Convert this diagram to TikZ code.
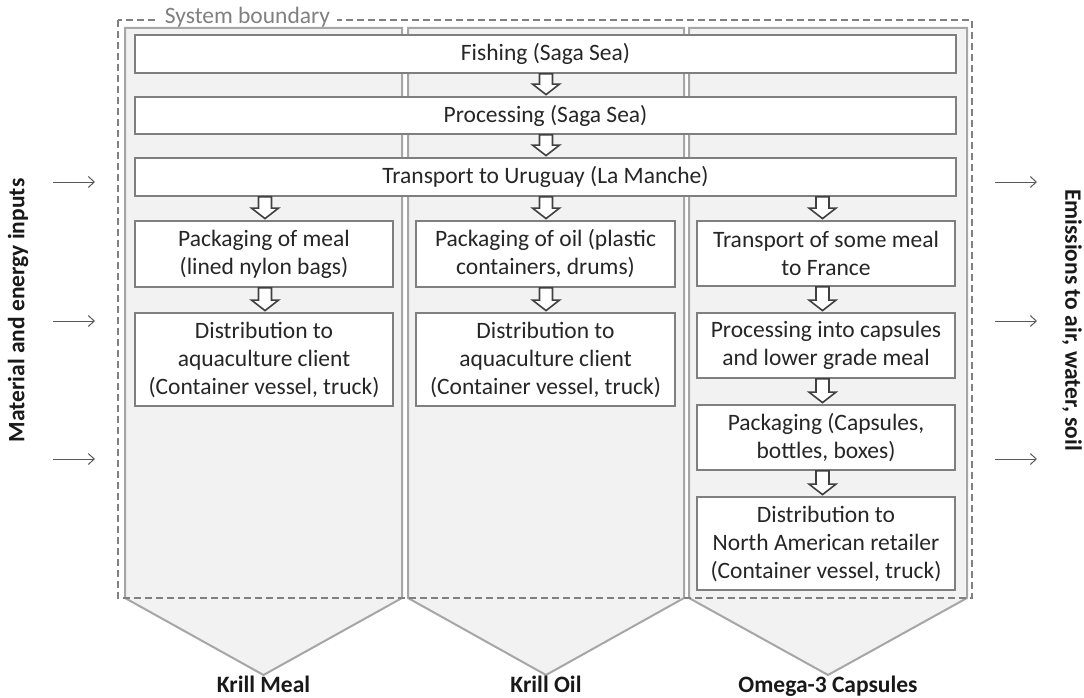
\documentclass[tikz,border=0pt]{standalone}
\usepackage{fontspec}
\setmainfont{Carlito}
\usetikzlibrary{arrows.meta,calc}
\definecolor{colfill}{HTML}{F2F2F2}
\definecolor{coledge}{HTML}{A6A6A6}
\definecolor{boxgray}{HTML}{7F7F7F}
\definecolor{dashgray}{HTML}{808080}
\definecolor{textdark}{HTML}{262626}
\definecolor{arrowdark}{HTML}{404040}
\definecolor{sidegray}{HTML}{595959}
\tikzset{
  procbox/.style={draw=boxgray, fill=white, line width=1.8pt, align=center,
    inner sep=0pt, text=textdark, font=\fontsize{23.5}{28}\selectfont},
  column/.style={fill=colfill, draw=coledge, line width=2pt, line join=miter},
  boundary/.style={draw=dashgray, line width=2.4pt, dash pattern=on 7pt off 4pt},
  hollow/.style={draw=arrowdark, fill=white, line width=1.6pt, line join=miter},
  sidearrow/.style={draw=sidegray, line width=1pt, -{Straight Barb[length=6pt,width=11pt]}},
  outlabel/.style={font=\fontsize{23.5}{28}\selectfont\bfseries, text=black!90},
}
\newcommand{\harr}[3]{%
  \draw[hollow] let \p1=(#1.south), \p2=(#2.north) in
    ({#3pt-6.5pt},{\y1}) -- ({#3pt+6.5pt},{\y1}) -- ({#3pt+6.5pt},{\y2+12pt})
    -- ({#3pt+13.5pt},{\y2+12pt}) -- ({#3pt},{\y2+1.5pt}) -- ({#3pt-13.5pt},{\y2+12pt})
    -- ({#3pt-6.5pt},{\y2+12pt}) -- cycle;}
\begin{document}
\begin{tikzpicture}[x=1pt,y=-1pt]
\useasboundingbox (0,0) rectangle (1084,698);
% columns
\path[column] (125,28) -- (402,28) -- (402,598) -- (263.5,675) -- (125,598) -- cycle;
\path[column] (408,28) -- (684,28) -- (684,598) -- (546,675) -- (408,598) -- cycle;
\path[column] (689,28) -- (967,28) -- (967,598) -- (828,675) -- (689,598) -- cycle;
% system boundary
\draw[boundary] (118,20) rectangle (972,598);
\node[anchor=base, fill=white, inner xsep=7pt, inner ysep=0pt, text depth=2pt,
  text=dashgray, font=\fontsize{23.5}{28}\selectfont] (sb) at (247.5,24) {System boundary};
% common boxes
\node[procbox, minimum width=821pt, minimum height=38pt] (fish) at (545.5,54) {Fishing (Saga Sea)};
\node[procbox, minimum width=821pt, minimum height=37pt] (proc) at (545.5,115.5) {Processing (Saga Sea)};
\node[procbox, minimum width=821pt, minimum height=38pt] (trans) at (545.5,177) {Transport to Uruguay (La Manche)};
% column 1
\node[procbox, minimum width=258pt, minimum height=66pt] (m1) at (264,254) {Packaging of meal\\(lined nylon bags)};
\node[procbox, minimum width=258pt, minimum height=93pt] (m2) at (264,359.5) {Distribution to\\aquaculture client\\(Container vessel, truck)};
% column 2
\node[procbox, minimum width=259pt, minimum height=66pt] (o1) at (545.5,254) {Packaging of oil (plastic\\containers, drums)};
\node[procbox, minimum width=259pt, minimum height=93pt] (o2) at (545.5,359.5) {Distribution to\\aquaculture client\\(Container vessel, truck)};
% column 3
\node[procbox, minimum width=258pt, minimum height=65pt] (c1) at (826,253.5) {Transport of some meal\\to France};
\node[procbox, minimum width=258pt, minimum height=65pt] (c2) at (826,345.5) {Processing into capsules\\and lower grade meal};
\node[procbox, minimum width=258pt, minimum height=65pt] (c3) at (826,437.5) {Packaging (Capsules,\\bottles, boxes)};
\node[procbox, minimum width=258pt, minimum height=93pt] (c4) at (826,543.5) {Distribution to\\North American retailer\\(Container vessel, truck)};
% hollow arrows
\harr{fish}{proc}{546}
\harr{proc}{trans}{546}
\harr{trans}{m1}{265}
\harr{trans}{o1}{546}
\harr{trans}{c1}{822.5}
\harr{m1}{m2}{265}
\harr{o1}{o2}{546}
\harr{c1}{c2}{822.5}
\harr{c2}{c3}{822.5}
\harr{c3}{c4}{822.5}
% side arrows
\coordinate (i1s) at (53,182); \coordinate (i1e) at (95,182);
\coordinate (i2s) at (53,321); \coordinate (i2e) at (95,321);
\coordinate (i3s) at (53,459); \coordinate (i3e) at (95,459);
\coordinate (e1s) at (995,182); \coordinate (e1e) at (1037,182);
\coordinate (e2s) at (995,321); \coordinate (e2e) at (1037,321);
\coordinate (e3s) at (995,459); \coordinate (e3e) at (1037,459);
\draw[sidearrow] (i1s) -- (i1e);
\draw[sidearrow] (i2s) -- (i2e);
\draw[sidearrow] (i3s) -- (i3e);
\draw[sidearrow] (e1s) -- (e1e);
\draw[sidearrow] (e2s) -- (e2e);
\draw[sidearrow] (e3s) -- (e3e);
% side labels
\node[outlabel, rotate=90] (inputs) at (18,310.5) {Material and energy inputs};
\node[outlabel, rotate=-90] (emis) at (1072,320) {Emissions to air, water, soil};
% product labels
\node[outlabel, anchor=base] (km) at (263.5,692) {Krill Meal};
\node[outlabel, anchor=base] (ko) at (546,692) {Krill Oil};
\node[outlabel, anchor=base] (om) at (828,692) {Omega-3 Capsules};
\end{tikzpicture}
\end{document}
